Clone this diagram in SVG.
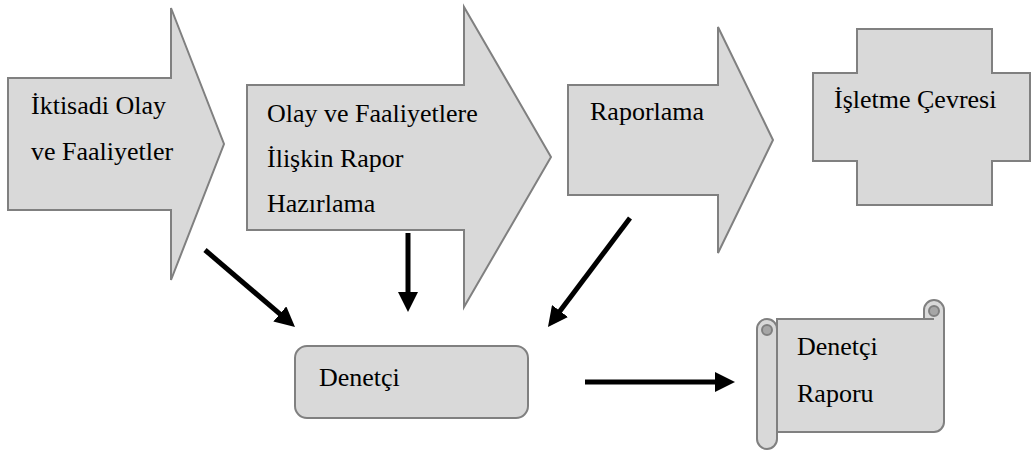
<svg xmlns="http://www.w3.org/2000/svg" width="1032" height="451" viewBox="0 0 1032 451">
<style>
.shape{fill:#d9d9d9;stroke:#808080;stroke-width:2;stroke-linejoin:miter}
.curl{fill:#a6a6a6;stroke:#808080;stroke-width:2}
.lbl{font-family:"Liberation Serif","Times New Roman",serif;font-size:26px;fill:#000}
.conn{stroke:#000;stroke-width:5;fill:none;marker-end:url(#ah)}
</style>
<defs>
<marker id="ah" markerUnits="userSpaceOnUse" markerWidth="20" markerHeight="20" refX="5" refY="10" orient="auto">
<path d="M0,0 L20,10 L0,20 z" fill="#000"/>
</marker>
</defs>
<rect width="1032" height="451" fill="#fff"/>
<g id="n1">
<polygon class="shape" points="8,78 171,78 171,8 224,144 171,280 171,210 8,210"/>
<text class="lbl" x="31" y="114">İktisadi Olay</text>
<text class="lbl" x="31" y="160">ve Faaliyetler</text>
</g>
<g id="n2">
<polygon class="shape" points="247,85 464,85 464,7 551,157 464,307 464,230 247,230"/>
<text class="lbl" x="267" y="122">Olay ve Faaliyetlere</text>
<text class="lbl" x="267" y="167">İlişkin Rapor</text>
<text class="lbl" x="267" y="212">Hazırlama</text>
</g>
<g id="n3">
<polygon class="shape" points="568,85 718,85 718,27 773,140 718,253 718,195 568,195"/>
<text class="lbl" x="590" y="120">Raporlama</text>
</g>
<g id="n4">
<polygon class="shape" points="857,29 992,29 992,73 1030,73 1030,161 992,161 992,205 857,205 857,161 813,161 813,73 857,73"/>
<text class="lbl" x="834" y="108">İşletme Çevresi</text>
</g>
<g id="n5">
<rect class="shape" x="295" y="346" width="233" height="72" rx="12" ry="12"/>
<text class="lbl" x="319" y="386">Denetçi</text>
</g>
<g id="n6">
<path class="shape" d="M777,319 L924,319 L924,310 A10,10 0 0 1 944,310 L944,422 A10,10 0 0 1 934,432 L777,432 Z"/>
<path class="shape" d="M757,329 A10,10 0 0 1 777,329 L777,439 A10,10 0 0 1 757,439 Z"/>
<circle class="curl" cx="934" cy="311" r="5"/>
<circle class="curl" cx="767" cy="330" r="5"/>
<path d="M924,319 L934,319" stroke="#808080" stroke-width="2" fill="none"/>
<text class="lbl" x="797" y="355">Denetçi</text>
<text class="lbl" x="797" y="402">Raporu</text>
</g>
<g id="connectors">
<path class="conn" d="M205,250 L283.6,317.2"/>
<path class="conn" d="M408,233 L408,297"/>
<path class="conn" d="M630,218 L557,315"/>
<path class="conn" d="M585,382 L720,382"/>
</g>
</svg>
